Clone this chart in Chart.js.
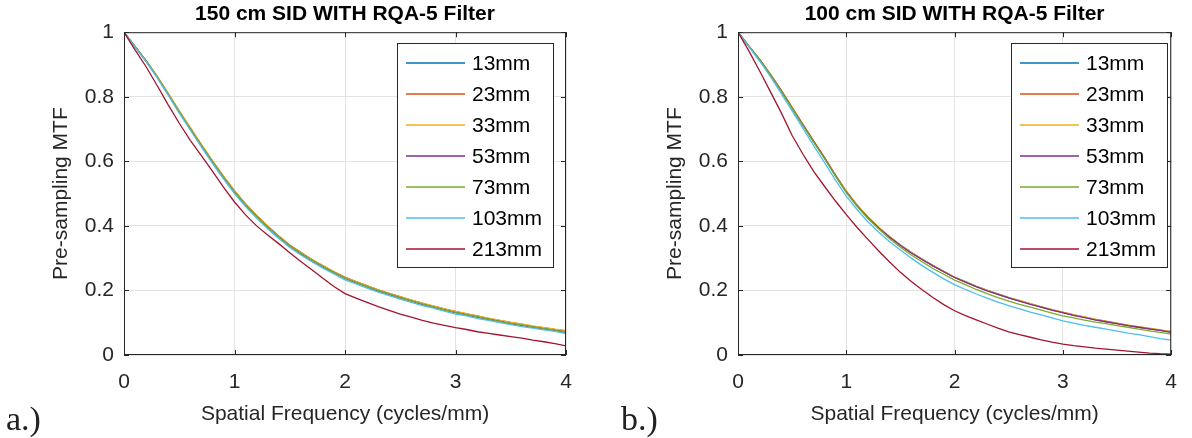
<!DOCTYPE html>
<html>
<head>
<meta charset="utf-8">
<script src="https://cdn.jsdelivr.net/npm/chart.js@4"></script>
<style>
  body { margin: 0; background: #fff; }
  #wrap { position: relative; width: 1192px; height: 438px; }
  .panel { position: absolute; top: 0; height: 438px; }
  .tag { position: absolute; font-family: 'Liberation Serif', serif; font-size: 34px; line-height: 34px; color: #222; }
</style>
</head>
<body>
<div id="wrap">
  <div class="panel" style="left:0;width:596px"><canvas id="chartA"></canvas></div>
  <div class="panel" style="left:614px;width:578px"><canvas id="chartB"></canvas></div>
  <div class="tag" style="left:6px;top:402px">a.)</div>
  <div class="tag" style="left:621px;top:402px">b.)</div>
</div>
<script>
// spatial frequency (cycles/mm)
const freq = [0, 0.1, 0.2, 0.3, 0.4, 0.5, 0.6, 0.7, 0.8, 0.9,
  1.0, 1.1, 1.2, 1.3, 1.4, 1.5, 1.6, 1.7, 1.8, 1.9,
  2.0, 2.1, 2.2, 2.3, 2.4, 2.5, 2.6, 2.7, 2.8, 2.9,
  3.0, 3.1, 3.2, 3.3, 3.4, 3.5, 3.6, 3.7, 3.8, 3.9, 4.0];

const labels = ['13mm', '23mm', '33mm', '53mm', '73mm', '103mm', '213mm'];
const colors = ['#0072BD', '#D95319', '#EDB120', '#7E2F8E', '#77AC30', '#4DBEEE', '#A2142F'];

// a.) 150 cm SID
const a13 = [1.000,0.955,0.911,0.862,0.808,0.753,0.701,0.649,0.599,0.551,0.506,0.466,0.430,0.397,0.367,0.339,0.316,0.295,0.275,0.257,0.239,0.226,0.213,0.200,0.190,0.178,0.169,0.158,0.150,0.141,0.132,0.126,0.118,0.112,0.105,0.098,0.094,0.087,0.083,0.077,0.071];
const a23 = [1.000,0.955,0.912,0.863,0.810,0.755,0.703,0.651,0.601,0.553,0.508,0.468,0.432,0.400,0.369,0.341,0.318,0.296,0.277,0.258,0.241,0.227,0.215,0.202,0.191,0.181,0.170,0.161,0.151,0.143,0.135,0.127,0.121,0.113,0.107,0.101,0.095,0.089,0.085,0.079,0.075];
const a33 = [1.000,0.956,0.912,0.864,0.811,0.757,0.705,0.653,0.603,0.555,0.509,0.469,0.432,0.399,0.368,0.340,0.317,0.296,0.276,0.258,0.240,0.227,0.214,0.202,0.191,0.180,0.171,0.160,0.152,0.143,0.135,0.128,0.120,0.114,0.107,0.101,0.096,0.090,0.085,0.080,0.076];
const a53 = [1.000,0.955,0.910,0.861,0.807,0.752,0.700,0.648,0.598,0.550,0.505,0.465,0.429,0.396,0.366,0.338,0.314,0.293,0.273,0.255,0.237,0.224,0.211,0.199,0.188,0.177,0.167,0.157,0.148,0.139,0.131,0.124,0.117,0.110,0.104,0.097,0.092,0.086,0.081,0.076,0.070];
const a73 = [1.000,0.955,0.911,0.862,0.808,0.753,0.700,0.648,0.598,0.550,0.505,0.465,0.429,0.396,0.366,0.338,0.315,0.294,0.274,0.256,0.238,0.225,0.212,0.200,0.189,0.178,0.168,0.158,0.149,0.140,0.132,0.125,0.118,0.111,0.104,0.098,0.093,0.087,0.082,0.077,0.071];
const a103 = [1.000,0.954,0.909,0.859,0.805,0.749,0.697,0.645,0.594,0.546,0.500,0.460,0.424,0.391,0.361,0.333,0.310,0.289,0.269,0.251,0.233,0.220,0.207,0.195,0.184,0.173,0.163,0.153,0.145,0.136,0.127,0.121,0.113,0.107,0.100,0.094,0.088,0.083,0.078,0.073,0.066];
const a213 = [1.000,0.945,0.893,0.835,0.775,0.718,0.665,0.618,0.570,0.520,0.474,0.434,0.400,0.372,0.345,0.317,0.290,0.264,0.238,0.212,0.190,0.176,0.163,0.150,0.138,0.127,0.117,0.107,0.099,0.092,0.085,0.079,0.072,0.067,0.062,0.057,0.052,0.046,0.041,0.035,0.028];

// b.) 100 cm SID
const b13 = [1.000,0.957,0.915,0.868,0.818,0.765,0.712,0.660,0.610,0.556,0.506,0.463,0.426,0.394,0.366,0.341,0.318,0.297,0.277,0.259,0.241,0.227,0.213,0.200,0.189,0.178,0.168,0.158,0.149,0.140,0.132,0.124,0.117,0.110,0.104,0.098,0.092,0.087,0.082,0.077,0.072];
const b23 = [1.000,0.957,0.916,0.869,0.820,0.767,0.714,0.662,0.611,0.557,0.507,0.464,0.427,0.395,0.366,0.340,0.317,0.296,0.277,0.258,0.240,0.226,0.212,0.200,0.188,0.177,0.168,0.158,0.148,0.139,0.131,0.123,0.117,0.109,0.103,0.097,0.092,0.086,0.081,0.076,0.071];
const b33 = [1.000,0.958,0.916,0.870,0.820,0.768,0.715,0.663,0.612,0.558,0.508,0.465,0.428,0.395,0.367,0.341,0.318,0.297,0.277,0.259,0.241,0.227,0.213,0.201,0.189,0.178,0.169,0.159,0.149,0.141,0.133,0.125,0.118,0.111,0.105,0.099,0.093,0.088,0.083,0.078,0.073];
const b53 = [1.000,0.957,0.915,0.868,0.818,0.765,0.713,0.661,0.610,0.556,0.505,0.462,0.425,0.393,0.365,0.339,0.316,0.296,0.276,0.258,0.240,0.226,0.212,0.199,0.188,0.177,0.167,0.157,0.148,0.139,0.131,0.123,0.116,0.109,0.103,0.097,0.091,0.086,0.081,0.076,0.070];
const b73 = [1.000,0.957,0.914,0.867,0.817,0.764,0.711,0.659,0.608,0.554,0.503,0.460,0.423,0.390,0.360,0.334,0.310,0.289,0.268,0.250,0.232,0.218,0.203,0.190,0.178,0.167,0.157,0.148,0.139,0.130,0.121,0.115,0.108,0.102,0.097,0.091,0.086,0.080,0.075,0.070,0.065];
const b103 = [1.000,0.955,0.910,0.862,0.810,0.756,0.702,0.648,0.596,0.542,0.492,0.450,0.413,0.380,0.351,0.325,0.300,0.277,0.256,0.236,0.218,0.203,0.189,0.176,0.164,0.153,0.143,0.133,0.124,0.115,0.106,0.099,0.092,0.086,0.080,0.074,0.068,0.063,0.057,0.051,0.046];
const b213 = [1.000,0.942,0.880,0.815,0.750,0.680,0.622,0.568,0.522,0.477,0.435,0.395,0.358,0.322,0.288,0.256,0.228,0.202,0.178,0.156,0.137,0.122,0.109,0.096,0.083,0.072,0.063,0.055,0.047,0.040,0.034,0.029,0.025,0.021,0.018,0.015,0.012,0.009,0.006,0.004,0.003];

const family = "'Liberation Sans', Arial, sans-serif";
const axisColor = '#262626';

// axes box with inward ticks on all sides, plus the boxed legend
const frame = {
  id: 'frame',
  afterDatasetsDraw(chart) {
    const { ctx, chartArea: a, scales: { x, y } } = chart;
    ctx.save();
    ctx.strokeStyle = axisColor;
    ctx.lineWidth = 1;
    ctx.strokeRect(a.left + 0.5, a.top + 0.5, a.width - 1, a.height - 1);
    ctx.beginPath();
    x.ticks.forEach(t => {
      const px = Math.round(x.getPixelForValue(t.value)) + 0.5;
      ctx.moveTo(px, a.bottom); ctx.lineTo(px, a.bottom - 5);
      ctx.moveTo(px, a.top); ctx.lineTo(px, a.top + 5);
    });
    y.ticks.forEach(t => {
      const py = Math.round(y.getPixelForValue(t.value)) + 0.5;
      ctx.moveTo(a.left, py); ctx.lineTo(a.left + 5, py);
      ctx.moveTo(a.right, py); ctx.lineTo(a.right - 5, py);
    });
    ctx.stroke();

    const bx = Math.round(a.left + 273), by = Math.round(a.top + 11), bw = 156, bh = 224;
    ctx.fillStyle = '#fff';
    ctx.fillRect(bx, by, bw, bh);
    ctx.strokeRect(bx + 0.5, by + 0.5, bw, bh);
    ctx.font = '21px ' + family;
    ctx.textBaseline = 'middle';
    chart.data.datasets.forEach((ds, i) => {
      const cy = by + 20 + i * 31;
      ctx.strokeStyle = ds.borderColor;
      ctx.lineWidth = 1.6;
      ctx.beginPath();
      ctx.moveTo(bx + 9, cy); ctx.lineTo(bx + 68, cy);
      ctx.stroke();
      ctx.fillStyle = '#000';
      ctx.fillText(ds.label, bx + 75, cy + 1);
    });
    ctx.restore();
  }
};

function makeChart(id, title, series, padRight) {
  return new Chart(document.getElementById(id), {
    type: 'line',
    data: {
      datasets: series.map((vals, i) => ({
        label: labels[i],
        data: freq.map((f, j) => ({ x: f, y: vals[j] })),
        borderColor: colors[i],
        borderWidth: 1.3,
        pointRadius: 0,
        tension: 0,
        fill: false,
        order: series.length - i
      }))
    },
    options: {
      responsive: true,
      maintainAspectRatio: false,
      animation: false,
      layout: { padding: { left: 0, right: padRight, top: 0, bottom: 0 } },
      plugins: {
        legend: { display: false },
        tooltip: { enabled: false },
        title: {
          display: true, text: title, color: '#000', fullSize: false,
          font: { size: 21, weight: 'bold', family },
          padding: { top: 2, bottom: 5 }
        }
      },
      scales: {
        x: {
          type: 'linear', min: 0, max: 4,
          ticks: { stepSize: 1, color: axisColor, font: { size: 21, family }, padding: 15, maxRotation: 0 },
          grid: { color: '#e3e3e3', drawTicks: false },
          border: { display: false },
          title: { display: true, text: 'Spatial Frequency (cycles/mm)', color: axisColor, font: { size: 21, family }, padding: { top: 0, bottom: 11 } },
          afterFit: s => { s.height = 83; }
        },
        y: {
          min: 0, max: 1,
          ticks: {
            stepSize: 0.2, color: axisColor, font: { size: 21, family }, padding: 10,
            callback: v => String(+v.toFixed(1))
          },
          grid: { color: '#e3e3e3', drawTicks: false },
          border: { display: false },
          title: { display: true, text: 'Pre-sampling MTF', color: axisColor, font: { size: 21, family }, padding: { top: 49, bottom: 0 } },
          afterFit: s => { s.width = 124; }
        }
      }
    },
    plugins: [frame]
  });
}

makeChart('chartA', '150 cm SID WITH RQA-5 Filter', [a13, a23, a33, a53, a73, a103, a213], 30);
makeChart('chartB', '100 cm SID WITH RQA-5 Filter', [b13, b23, b33, b53, b73, b103, b213], 12);
</script>
</body>
</html>
